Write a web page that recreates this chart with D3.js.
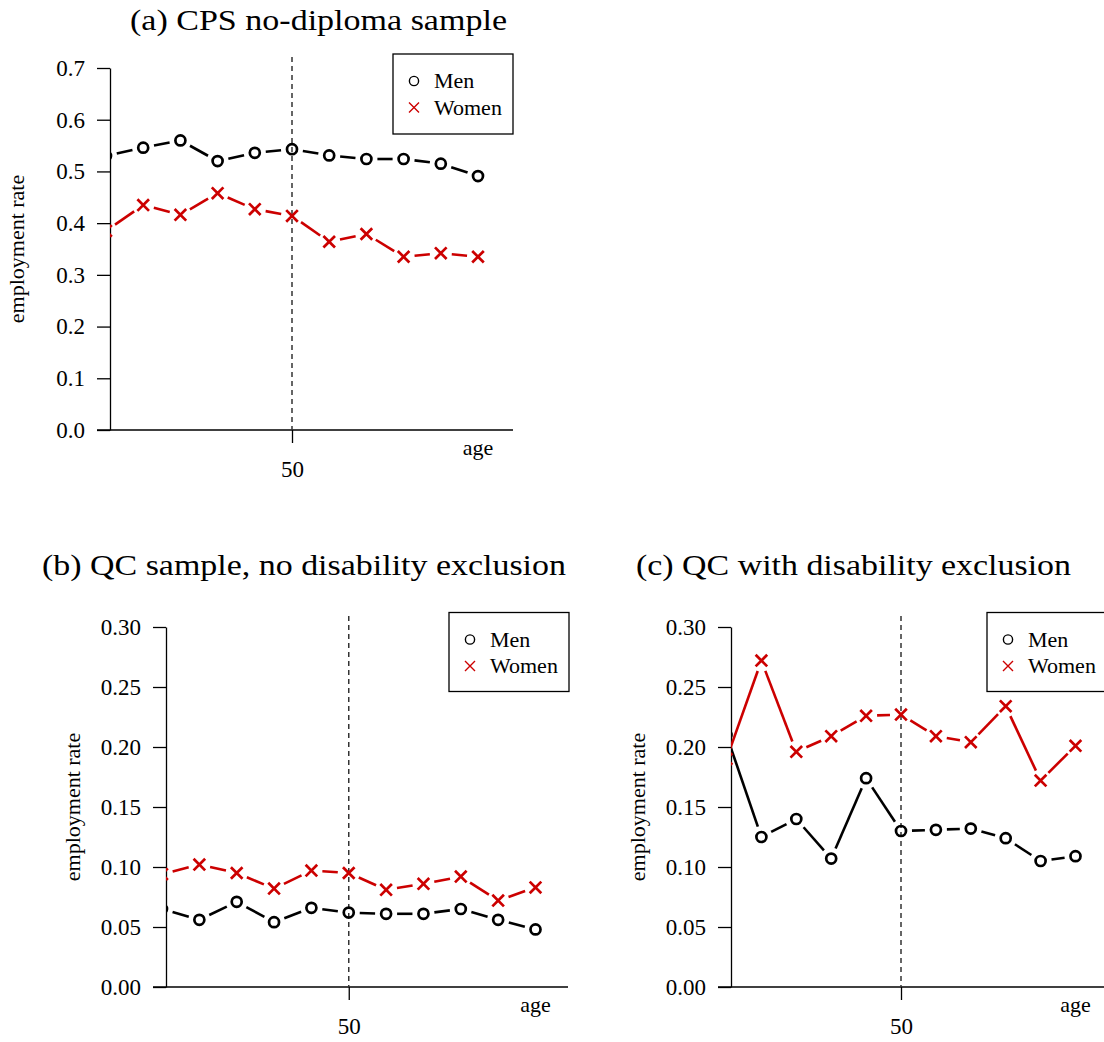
<!DOCTYPE html>
<html>
<head>
<meta charset="utf-8">
<script src="https://cdn.jsdelivr.net/npm/d3@7"></script>
<style>
  body { margin: 0; background: #fff; }
  svg { display: block; }
  text { font-family: "Liberation Serif", "Times New Roman", Tinos, serif; fill: #000; }
</style>
</head>
<body>
<svg id="chart" width="1104" height="1042"></svg>
<script>
// Ages around the cutoff
const ages = [45, 46, 47, 48, 49, 50, 51, 52, 53, 54, 55];
const cutoffAge = 50;

// (a) CPS no-diploma sample
const cpsMen   = [0.530, 0.546, 0.560, 0.520, 0.536, 0.543, 0.531, 0.524, 0.524, 0.515, 0.491];
const cpsWomen = [0.385, 0.435, 0.416, 0.458, 0.427, 0.414, 0.364, 0.379, 0.335, 0.342, 0.335];

// (b) QC sample, no disability exclusion
const qcMen   = [0.065, 0.056, 0.071, 0.054, 0.066, 0.062, 0.061, 0.061, 0.065, 0.056, 0.048];
const qcWomen = [0.094, 0.102, 0.095, 0.082, 0.097, 0.095, 0.081, 0.086, 0.092, 0.072, 0.083];

// (c) QC with disability exclusion
const qcDisMen   = [0.210, 0.125, 0.140, 0.107, 0.174, 0.130, 0.131, 0.132, 0.124, 0.105, 0.109];
const qcDisWomen = [0.190, 0.272, 0.196, 0.209, 0.226, 0.227, 0.209, 0.204, 0.234, 0.172, 0.201];

// Axis ticks
const cpsTicks = [0, 0.1, 0.2, 0.3, 0.4, 0.5, 0.6, 0.7];
const qcTicks  = [0, 0.05, 0.10, 0.15, 0.20, 0.25, 0.30];

const titles = ["(a) CPS no-diploma sample",
                "(b) QC sample, no disability exclusion",
                "(c) QC with disability exclusion"];
const seriesNames = ["Men", "Women"];
const yLabel = "employment rate";
const xLabel = "age";

const RED = "#cc0000";
const FONT = '"Liberation Serif", "Times New Roman", Tinos, serif';
const svg = d3.select("#chart");

const panels = [
  { id: "a", title: titles[0], titleCx: 318.5, titleLen: 377, titleY: 30,
    axisX: 110, xRange: [106, 478], yRange: [430, 68], yMax: 0.7, ticks: cpsTicks, fmt: d3.format(".1f"),
    axisRight: 513, men: cpsMen, women: cpsWomen, legend: { x: 393, y: 54, w: 120, h: 80 } },
  { id: "b", title: titles[1], titleCx: 304, titleLen: 524, titleY: 575,
    axisX: 166, xRange: [162, 535.5], yRange: [987, 627], yMax: 0.30, ticks: qcTicks, fmt: d3.format(".2f"),
    axisRight: 568, men: qcMen, women: qcWomen, legend: { x: 449, y: 612.5, w: 120, h: 79 } },
  { id: "c", title: titles[2], titleCx: 853.5, titleLen: 435, titleY: 575,
    axisX: 731, xRange: [726.5, 1075.5], yRange: [987, 627], yMax: 0.30, ticks: qcTicks, fmt: d3.format(".2f"),
    axisRight: 1104, men: qcDisMen, women: qcDisWomen, legend: { x: 987, y: 612.5, w: 121, h: 79 } }
];

// Line segments between consecutive points, leaving a gap around each marker
function gappedSegments(pts, gap) {
  const segs = [];
  for (let i = 0; i < pts.length - 1; i++) {
    const [x0, y0] = pts[i], [x1, y1] = pts[i + 1];
    const dx = x1 - x0, dy = y1 - y0, len = Math.hypot(dx, dy);
    if (len <= 2 * gap) continue;
    const ux = dx / len, uy = dy / len;
    segs.push([[x0 + ux * gap, y0 + uy * gap], [x1 - ux * gap, y1 - uy * gap]]);
  }
  return segs;
}

function drawCircle(g, x, y, r, sw) {
  g.append("circle").attr("cx", x).attr("cy", y).attr("r", r)
    .attr("fill", "none").attr("stroke", "#000").attr("stroke-width", sw);
}
function drawCross(g, x, y, h, sw) {
  g.append("path")
    .attr("d", `M${x - h},${y - h}L${x + h},${y + h}M${x - h},${y + h}L${x + h},${y - h}`)
    .attr("stroke", RED).attr("stroke-width", sw).attr("fill", "none");
}

panels.forEach(p => {
  const x = d3.scaleLinear().domain([ages[0], ages[ages.length - 1]]).range(p.xRange);
  const y = d3.scaleLinear().domain([0, p.yMax]).range(p.yRange);
  const g = svg.append("g");
  const y0 = p.yRange[0], yTop = p.yRange[1];

  // Title
  g.append("text").attr("x", p.titleCx).attr("y", p.titleY)
    .attr("text-anchor", "middle").attr("font-family", FONT).style("font-size", "29px")
    .attr("textLength", p.titleLen).attr("lengthAdjust", "spacingAndGlyphs")
    .text(p.title);

  // Plot clip: nothing left of the y axis
  g.append("clipPath").attr("id", "clip-" + p.id)
    .append("rect").attr("x", p.axisX).attr("y", 0)
    .attr("width", 1104 - p.axisX).attr("height", y0);

  // Y axis
  const ya = g.append("g").attr("transform", `translate(${p.axisX},0)`)
    .call(d3.axisLeft(y).tickValues(p.ticks).tickFormat(p.fmt)
      .tickSize(13).tickSizeOuter(0).tickPadding(12));
  ya.attr("font-family", FONT);
  ya.selectAll("path,line").attr("stroke", "#000").attr("stroke-width", 1.3);
  ya.selectAll("text").style("font-size", "23px");

  // X axis line extending past the plot edges
  g.append("line").attr("x1", p.axisX - 13).attr("x2", p.axisRight)
    .attr("y1", y0).attr("y2", y0).attr("stroke", "#000").attr("stroke-width", 1.3);
  const xa = g.append("g").attr("transform", `translate(0,${y0})`)
    .call(d3.axisBottom(x).tickValues([cutoffAge]).tickFormat(d3.format("d"))
      .tickSize(13).tickPadding(18));
  xa.attr("font-family", FONT);
  xa.select(".domain").remove();
  xa.selectAll("line").attr("stroke", "#000").attr("stroke-width", 1.3);
  xa.selectAll("text").style("font-size", "23px");

  g.append("text").attr("x", x(ages[ages.length - 1])).attr("y", y0 + 25)
    .attr("text-anchor", "middle").attr("font-family", FONT).style("font-size", "22px").text(xLabel);

  // Y label
  g.append("text")
    .attr("transform", `translate(${p.axisX - 86},${(y0 + yTop) / 2}) rotate(-90)`)
    .attr("text-anchor", "middle").attr("font-family", FONT).style("font-size", "22px").text(yLabel);

  // Cutoff line
  g.append("line").attr("x1", x(cutoffAge)).attr("x2", x(cutoffAge))
    .attr("y1", yTop - 11).attr("y2", y0)
    .attr("stroke", "#333").attr("stroke-width", 1.5).attr("stroke-dasharray", "5,4");

  // Series
  const plot = g.append("g").attr("clip-path", `url(#clip-${p.id})`);
  const series = [
    { vals: p.men, color: "#000", marker: "circle" },
    { vals: p.women, color: RED, marker: "cross" }
  ];
  series.forEach(s => {
    const pts = ages.map((a, i) => [x(a), y(s.vals[i])]);
    const segs = gappedSegments(pts, 11);
    plot.selectAll(null).data(segs).enter().append("line")
      .attr("x1", d => d[0][0]).attr("y1", d => d[0][1])
      .attr("x2", d => d[1][0]).attr("y2", d => d[1][1])
      .attr("stroke", s.color).attr("stroke-width", 2.6);
    pts.forEach(([px, py]) => {
      if (s.marker === "circle") drawCircle(plot, px, py, 5, 2.7);
      else drawCross(plot, px, py, 5.8, 2.7);
    });
  });

  // Legend
  const L = p.legend;
  const lg = g.append("g");
  lg.append("rect").attr("x", L.x).attr("y", L.y).attr("width", L.w).attr("height", L.h)
    .attr("fill", "#fff").attr("stroke", "#000").attr("stroke-width", 1.3);
  drawCircle(lg, L.x + 21, L.y + 27, 4.6, 1.4);
  drawCross(lg, L.x + 21, L.y + 53.5, 5, 1.4);
  seriesNames.forEach((name, i) => {
    lg.append("text").attr("x", L.x + 41).attr("y", L.y + 34 + i * 26.5)
      .attr("font-family", FONT).style("font-size", "22px").text(name);
  });
});
</script>
</body>
</html>
